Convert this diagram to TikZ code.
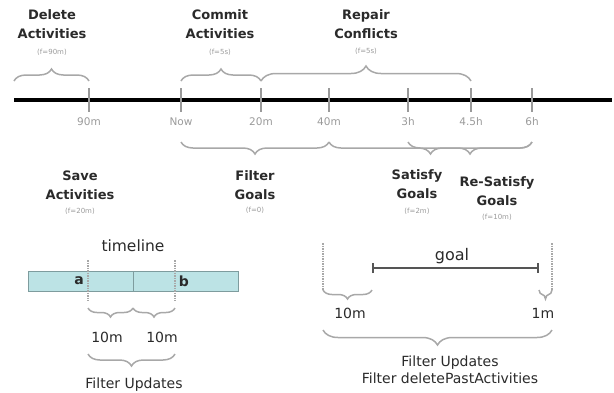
\documentclass[tikz,border=0pt]{standalone}
\usepackage{fontspec}
\setmainfont{DejaVu Sans}
\usetikzlibrary{decorations.pathreplacing,arrows.meta}
\definecolor{txt}{HTML}{2A2A2A}
\definecolor{brc}{HTML}{A8A8A8}
\definecolor{tickc}{HTML}{9A9A9A}
\definecolor{barfill}{HTML}{BCE3E5}
\definecolor{barline}{HTML}{7E9C9E}
\definecolor{goalc}{HTML}{555555}
\tikzset{
  title/.style={font=\fontsize{13}{19}\selectfont\bfseries, text=txt, align=center, inner sep=0pt},
  smalltxt/.style={font=\fontsize{7}{8}\selectfont, text=tickc, inner sep=0pt},
  ticklab/.style={font=\fontsize{10.5}{12}\selectfont, text=tickc, inner sep=0pt},
  label14/.style={font=\fontsize{14}{15}\selectfont, text=txt, inner sep=0pt, align=center},
  tickline/.style={draw=tickc, line width=2pt},
  dashv/.style={draw=brc, line width=1.5pt, dash pattern=on 1.5pt off 1pt},
  brup/.style={decorate, decoration={brace, amplitude=#1}, draw=brc, line width=1.5pt},
  brdown/.style={decorate, decoration={brace, mirror, amplitude=#1}, draw=brc, line width=1.5pt},
}
\begin{document}
\begin{tikzpicture}[x=1pt,y=-1pt]
\useasboundingbox (0,0) rectangle (614,392);
% timeline
\coordinate (tl0) at (14,100);
\coordinate (tl1) at (612,100);
\draw[line width=4pt, black] (tl0) -- (tl1);
\foreach \n/\x/\l in {t90/89/90m, tnow/181/Now, t20/261/20m, t40/329/40m, t3h/408/3h, t45/471/4.5h, t6h/532/6h}{
  \coordinate (\n) at (\x,100);
  \coordinate (\n a) at (\x,88);
  \coordinate (\n b) at (\x,112);
  \draw[tickline] (\n a) -- (\n b);
  \node[ticklab] (\n lab) at (\x,122) {\l};
}
% upper braces
\coordinate (ud0) at (14,81); \coordinate (ud1) at (89,81);
\draw[brup=12pt] (ud0) -- (ud1);
\coordinate (uc0) at (181,81); \coordinate (uc1) at (261,81);
\draw[brup=12pt] (uc0) -- (uc1);
\coordinate (ur0) at (261,81); \coordinate (ur1) at (471,81);
\draw[brup=15pt] (ur0) -- (ur1);
\node[title] (del) at (52,24) {Delete\\Activities};
\node[smalltxt] (delf) at (52,52) {(f=90m)};
\node[title] (com) at (220,24) {Commit\\Activities};
\node[smalltxt] (comf) at (220,52) {(f=5s)};
\node[title] (rep) at (366,24) {Repair\\Conflicts};
\node[smalltxt] (repf) at (366,51) {(f=5s)};
% lower braces
\coordinate (lf0) at (181,142); \coordinate (lf1) at (329,142);
\draw[brdown=12pt] (lf0) -- (lf1);
\coordinate (ls0) at (329,142); \coordinate (ls1) at (532,142);
\draw[brdown=12pt] (ls0) -- (ls1);
\coordinate (lr0) at (408,142); \coordinate (lr1) at (532,142);
\draw[brdown=12pt] (lr0) -- (lr1);
\node[title] (save) at (80,185) {Save\\Activities};
\node[smalltxt] (savef) at (80,211) {(f=20m)};
\node[title] (fg) at (255,185) {Filter\\Goals};
\node[smalltxt] (fgf) at (255,210) {(f=0)};
\node[title] (sg) at (417,184) {Satisfy\\Goals};
\node[smalltxt] (sgf) at (417,211) {(f=2m)};
\node[title] (rsg) at (497,191) {Re-Satisfy\\Goals};
\node[smalltxt] (rsgf) at (497,217) {(f=10m)};
% lower-left timeline bar
\node[label14, font=\fontsize{15.5}{17}\selectfont] (tlab) at (133,246) {timeline};
\coordinate (b0) at (28,271); \coordinate (b1) at (238,291);
\draw[fill=barfill, draw=barline, line width=1pt] (b0) rectangle (b1);
\coordinate (bm0) at (133,271); \coordinate (bm1) at (133,291);
\draw[draw=barline, line width=1pt] (bm0) -- (bm1);
\coordinate (da0) at (88,260); \coordinate (da1) at (88,301);
\coordinate (db0) at (175,260); \coordinate (db1) at (175,301);
\draw[dashv] (da0) -- (da1);
\draw[dashv] (db0) -- (db1);
\node[label14, font=\fontsize{14}{15}\selectfont\bfseries] (na) at (79,281) {a};
\node[label14, font=\fontsize{14}{15}\selectfont\bfseries] (nb) at (184,281) {b};
\coordinate (s10) at (88,308); \coordinate (s11) at (133,308); \coordinate (s12) at (175,308);
\draw[brdown=9pt] (s10) -- (s11);
\draw[brdown=9pt] (s11) -- (s12);
\node[label14] (m1) at (107,337) {10m};
\node[label14] (m2) at (162,337) {10m};
\coordinate (fu0) at (88,354); \coordinate (fu1) at (175,354);
\draw[brdown=12pt] (fu0) -- (fu1);
\node[label14] (fu) at (134,385) {Filter Updates};
% lower-right goal
\coordinate (gd0) at (323,243); \coordinate (gd1) at (323,290);
\coordinate (ge0) at (552,243); \coordinate (ge1) at (552,290);
\draw[dashv] (gd0) -- (gd1);
\draw[dashv] (ge0) -- (ge1);
\coordinate (g0) at (372,268); \coordinate (g1) at (539,268);
\draw[draw=goalc, line width=2.5pt, {Bar[width=10pt,line width=2pt]}-{Bar[width=10pt,line width=2pt]}] (g0) -- (g1);
\node[label14, font=\fontsize{16}{17}\selectfont] (goal) at (452,256) {goal};
\coordinate (r10) at (323,290); \coordinate (r11) at (372,290);
\draw[brdown=9pt] (r10) -- (r11);
\coordinate (r20) at (539,290); \coordinate (r21) at (552,290);
\draw[brdown=9pt] (r20) -- (r21);
\node[label14] (m3) at (350,313) {10m};
\node[label14] (m4) at (543,313) {1m};
\coordinate (fr0) at (323,330); \coordinate (fr1) at (552,330);
\draw[brdown=15pt] (fr0) -- (fr1);
\node[label14, font=\fontsize{14}{17}\selectfont] (fr) at (450,370) {Filter Updates\\Filter deletePastActivities};
\end{tikzpicture}
\end{document}
